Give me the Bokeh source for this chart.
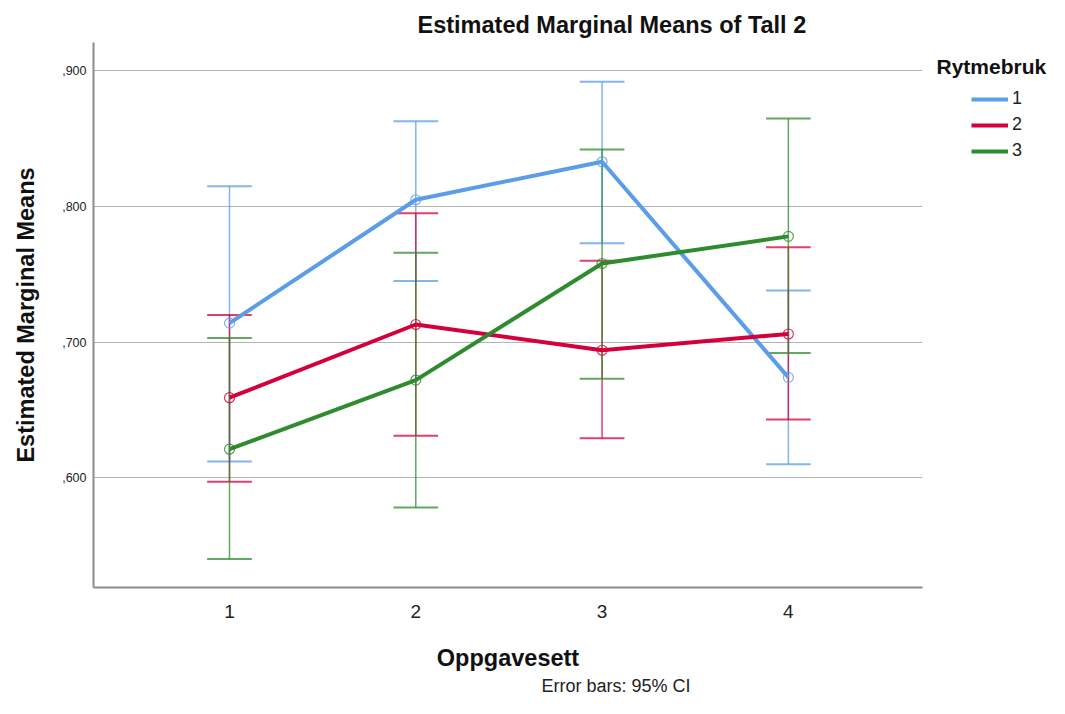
from bokeh.plotting import figure
from bokeh.models import (FixedTicker, CustomJSTickFormatter, Label, Legend, LegendItem, Range1d, Title)
from bokeh.layouts import row
from bokeh.embed import file_html
from bokeh.resources import INLINE

# ---- data ----
oppgavesett = [1, 2, 3, 4]
series_names = ["1", "2", "3"]
mean_1 = [0.714, 0.805, 0.833, 0.674]
lower_1 = [0.612, 0.745, 0.773, 0.610]
upper_1 = [0.815, 0.863, 0.892, 0.738]
mean_2 = [0.659, 0.713, 0.694, 0.706]
lower_2 = [0.597, 0.631, 0.629, 0.643]
upper_2 = [0.720, 0.795, 0.760, 0.770]
mean_3 = [0.621, 0.672, 0.758, 0.778]
lower_3 = [0.540, 0.578, 0.673, 0.692]
upper_3 = [0.703, 0.766, 0.842, 0.865]
y_ticks = [0.6, 0.7, 0.8, 0.9]
x_ticks = [1, 2, 3, 4]

colors = ["#5b9de8", "#d4003c", "#2e8b2e"]
FONT = "Liberation Sans"
H = 698

p = figure(width=930, height=H, output_backend="svg", toolbar_location=None,
           x_range=Range1d(0.27, 4.72), y_range=Range1d(0.519, 0.921))
p.min_border_left = 93
p.min_border_right = 8
p.min_border_top = 42
p.min_border_bottom = 111
p.outline_line_color = None

p.xgrid.grid_line_color = None
p.ygrid.grid_line_color = "#b4b4b4"
p.ygrid.grid_line_width = 1

p.xaxis.ticker = FixedTicker(ticks=x_ticks)
p.yaxis.ticker = FixedTicker(ticks=y_ticks)
p.yaxis.formatter = CustomJSTickFormatter(code="return ',' + (tick*1000).toFixed(0);")
for ax in (p.xaxis[0], p.yaxis[0]):
    ax.major_tick_line_color = None
    ax.minor_tick_line_color = None
    ax.major_tick_out = 0
    ax.major_tick_in = 0
    ax.minor_tick_out = 0
    ax.minor_tick_in = 0
    ax.axis_line_color = "#8c8c8c"
    ax.axis_line_width = 2
    ax.major_label_text_font = FONT
    ax.major_label_text_color = "#222222"
    ax.axis_label_text_font = FONT
    ax.axis_label_text_font_style = "bold"
    ax.axis_label_text_font_size = "23.5px"
    ax.axis_label_text_color = "#111111"
p.xaxis.major_label_text_font_size = "19px"
p.yaxis.major_label_text_font_size = "12.5px"
p.xaxis.major_label_standoff = 17
p.yaxis.major_label_standoff = 7
p.xaxis.axis_label = "Oppgavesett"
p.yaxis.axis_label = "Estimated Marginal Means"
p.xaxis.axis_label_standoff = 24
p.yaxis.axis_label_standoff = 20

p.add_layout(Title(text="Estimated Marginal Means of Tall 2", align="left", offset=324, standoff=9,
                   text_font=FONT, text_font_size="23.5px", text_font_style="bold", text_color="#111111"), "above")
p.add_layout(Title(text="Error bars: 95% CI", align="left", offset=448, standoff=0,
                   text_font=FONT, text_font_size="18px", text_font_style="normal", text_color="#222222"), "below")

cap = 0.12
series = [(mean_1, lower_1, upper_1), (mean_2, lower_2, upper_2), (mean_3, lower_3, upper_3)]
for (m, lo, up), c in zip(series, colors):
    p.segment(x0=oppgavesett, y0=lo, x1=oppgavesett, y1=up, line_color=c, line_width=1.5, line_alpha=0.75)
    p.segment(x0=[x - cap for x in oppgavesett], y0=lo, x1=[x + cap for x in oppgavesett], y1=lo,
              line_color=c, line_width=2, line_alpha=0.75)
    p.segment(x0=[x - cap for x in oppgavesett], y0=up, x1=[x + cap for x in oppgavesett], y1=up,
              line_color=c, line_width=2, line_alpha=0.75)
for (m, lo, up), c in zip(series, colors):
    p.line(oppgavesett, m, line_color=c, line_width=4)
    p.scatter(oppgavesett, m, marker="circle", size=10, fill_color=None, line_color=c,
              line_width=1.2, line_alpha=0.8)

# ---- legend panel (its frame is aligned with the main plot frame by the row) ----
LW = 119
lg = figure(width=LW, height=H, output_backend="svg", toolbar_location=None,
            x_axis_location=None, y_axis_location=None,
            x_range=Range1d(0, 1), y_range=Range1d(0, 1))
lg.min_border_left = 0
lg.min_border_right = 0
lg.min_border_top = 0
lg.min_border_bottom = 0
lg.outline_line_color = None
lg.xgrid.visible = False
lg.ygrid.visible = False
lg_renderers = []
for (m, lo, up), c in zip(series, colors):
    lg_renderers.append(lg.line([x + 1000 for x in oppgavesett], m, line_color=c, line_width=4))

FRAME_BOTTOM = 587
legend = Legend(items=[LegendItem(label=n, renderers=[r]) for n, r in zip(series_names, lg_renderers)],
                location=(41, FRAME_BOTTOM - 161), padding=0, margin=0, spacing=5,
                glyph_width=37, glyph_height=20, label_height=20, label_standoff=4,
                label_text_font=FONT, label_text_font_size="18px", label_text_color="#222222",
                border_line_color=None, background_fill_alpha=0)
lg.add_layout(legend, "center")
lg.add_layout(Label(x=6, y=FRAME_BOTTOM - 66, x_units="screen", y_units="screen", text="Rytmebruk",
                    text_align="left", text_baseline="middle", text_font=FONT, text_font_style="bold",
                    text_font_size="21px", text_color="#111111"))

layout = row(p, lg, spacing=0)
open("out.html", "w").write(file_html(layout, INLINE))
